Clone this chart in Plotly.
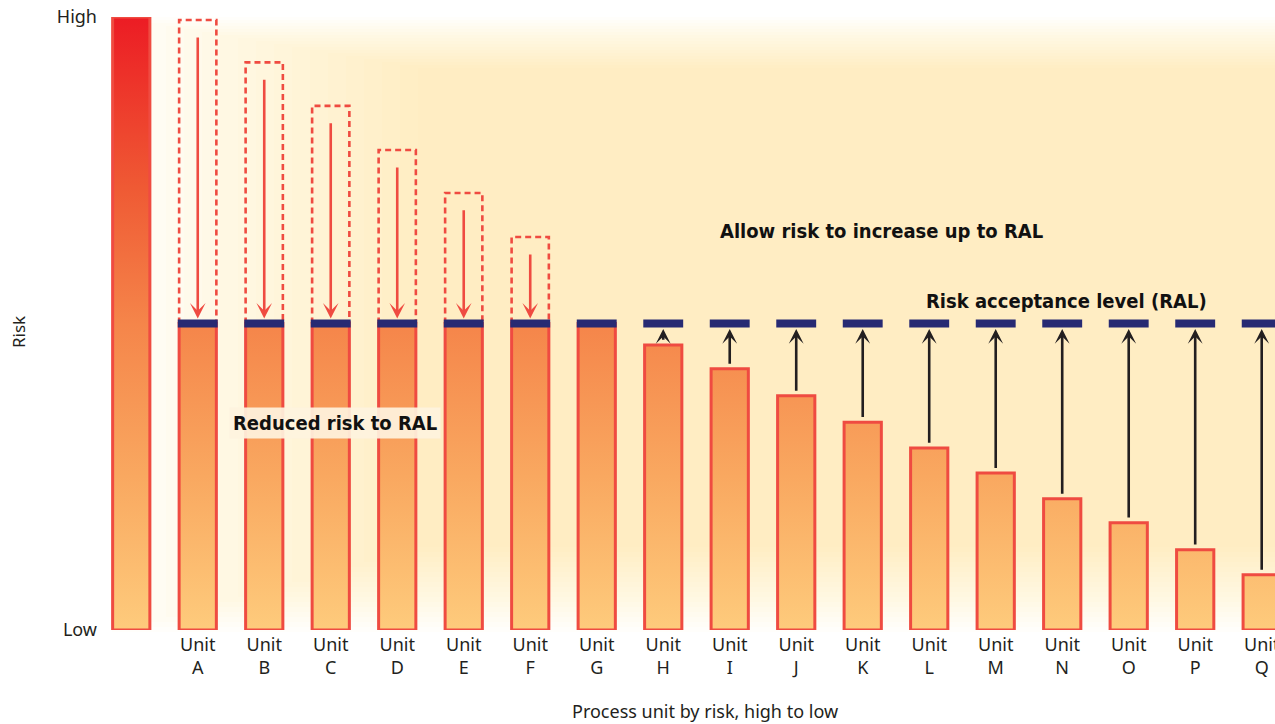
import plotly.graph_objects as go

# ---- data -------------------------------------------------------------
units = ["A", "B", "C", "D", "E", "F", "G", "H", "I",
         "J", "K", "L", "M", "N", "O", "P", "Q"]
unit_risk = [99.5, 92.6, 85.5, 78.3, 71.3, 64.1, 50.0, 46.5, 42.6,
             38.2, 33.9, 29.7, 25.6, 21.4, 17.5, 13.1, 9.0]
ral = 50.0            # risk acceptance level
scale_max = 100.0     # full-height risk scale bar (first column)

# ---- styling ----------------------------------------------------------
BAR_W = 0.56
CAP_W = 0.60
RED = "#ef4b41"
NAVY = "#272a73"
INK = "#231f20"
gradient = [[0.0, "#fecb7c"], [0.25, "#f9a860"], [0.5, "#f5854a"],
            [0.72, "#ef5a34"], [1.0, "#ec1c24"]]
LABEL_FONT = "Noto Sans, Open Sans, sans-serif"
BOLD_FONT = "Liberation Sans Narrow, DejaVu Sans Condensed, sans-serif"

x_pos = list(range(1, len(units) + 1))
shown = [min(r, ral) for r in unit_risk]

all_x = [0] + x_pos
all_y = [scale_max] + shown

fig = go.Figure()

# gradient fill and outline of every bar (one rectangle per bar)
px, py = [], []
for x, y in zip(all_x, all_y):
    h = BAR_W / 2
    px += [x - h, x + h, x + h, x - h, x - h, None]
    py += [0, 0, y, y, 0, None]
fig.add_trace(go.Scatter(
    x=px, y=py, mode="lines", fill="toself", line=dict(width=0),
    fillgradient=dict(type="vertical", colorscale=gradient,
                      start=0, stop=scale_max),
    hoverinfo="skip", showlegend=False))
fig.add_trace(go.Scatter(
    x=px, y=py, mode="lines", line=dict(color=RED, width=3),
    hoverinfo="skip", showlegend=False))

# dashed boxes showing the original risk of units above the RAL
dx, dy = [], []
for x, r in zip(x_pos, unit_risk):
    if r > ral:
        h = BAR_W / 2
        dx += [x - h, x - h, x + h, x + h, None]
        dy += [ral, r, r, ral, None]
fig.add_trace(go.Scatter(
    x=dx, y=dy, mode="lines",
    line=dict(color=RED, width=2.6, dash="6px,4px"),
    hoverinfo="skip", showlegend=False))

# RAL caps on every unit
cx, cy = [], []
for x in x_pos:
    cx += [x - CAP_W / 2, x + CAP_W / 2, None]
    cy += [ral, ral, None]
fig.add_trace(go.Scatter(
    x=cx, y=cy, mode="lines", line=dict(color=NAVY, width=8),
    hoverinfo="skip", showlegend=False))

# arrows: down to the RAL for high-risk units, up to the RAL for low-risk ones
annotations = []
for x, r in zip(x_pos, unit_risk):
    if r > ral:
        annotations.append(dict(
            x=x, y=ral + 0.8, ax=x, ay=r - 2.6, xref="x", yref="y",
            axref="x", ayref="y", text="", showarrow=True,
            arrowhead=3, arrowsize=1.0, arrowwidth=2.6, arrowcolor=RED,
            standoff=0))
    elif r < ral:
        annotations.append(dict(
            x=x, y=ral - 0.9, ax=x, ay=r + 0.6, xref="x", yref="y",
            axref="x", ayref="y", text="", showarrow=True,
            arrowhead=3, arrowsize=0.95, arrowwidth=2.6, arrowcolor=INK,
            standoff=0))

# text labels
annotations += [
    dict(x=11.28, y=65.1, xref="x", yref="y", showarrow=False,
         xanchor="center", yanchor="middle",
         text="<b>Allow risk to increase up to RAL</b>",
         font=dict(family=BOLD_FONT, size=20, color="#111111")),
    dict(x=14.06, y=53.7, xref="x", yref="y", showarrow=False,
         xanchor="center", yanchor="middle",
         text="<b>Risk acceptance level (RAL)</b>",
         font=dict(family=BOLD_FONT, size=20, color="#111111")),
    dict(x=3.06, y=33.8, xref="x", yref="y", showarrow=False,
         xanchor="center", yanchor="middle",
         text="<b>Reduced risk to RAL</b>",
         bgcolor="rgba(254,243,222,0.92)", borderpad=3,
         font=dict(family=BOLD_FONT, size=20, color="#111111")),
    dict(x=(18 - 98) / 1177, y=(630 - 332) / 613, xref="paper", yref="paper",
         xanchor="center", yanchor="middle",
         showarrow=False, text="Risk", textangle=-90,
         font=dict(family=LABEL_FONT, size=17, color=INK)),
    dict(x=(705 - 98) / 1177, y=(630 - 711) / 613, xref="paper", yref="paper",
         xanchor="center", yanchor="middle",
         showarrow=False, text="Process unit by risk, high to low",
         font=dict(family=LABEL_FONT, size=18, color=INK)),
]

# soft warm glow behind the bars (stacked translucent rectangles)
shapes = []
N = 18
for k in range(N):
    left, right = 112 + 18 * k, 1330
    top, bottom = 17 + 3 * k, 632 - 5 * k
    shapes.append(dict(
        type="rect", xref="paper", yref="paper", layer="below",
        x0=(left - 98) / 1177, x1=(right - 98) / 1177,
        y0=(630 - bottom) / 613, y1=(630 - top) / 613,
        line=dict(width=0), fillcolor="#fcdb94", opacity=0.035))

fig.update_layout(
    width=1275, height=724,
    margin=dict(l=98, r=0, t=17, b=94, autoexpand=False),
    paper_bgcolor="white", plot_bgcolor="rgba(0,0,0,0)",
    showlegend=False,
    annotations=annotations, shapes=shapes,
    xaxis=dict(range=[-0.5, 17.2], tickvals=x_pos,
               ticktext=[f"Unit<br>{u}" for u in units],
               showgrid=False, zeroline=False, showline=False, ticks="",
               automargin=False,
               ticklabeloverflow="allow", ticklabelstandoff=2,
               tickfont=dict(family=LABEL_FONT, size=18, color=INK)),
    yaxis=dict(range=[0, scale_max], tickvals=[0, scale_max],
               ticktext=["Low", "High"], showgrid=False, zeroline=False,
               showline=False, ticks="", automargin=False,
               tickfont=dict(family=LABEL_FONT, size=18, color=INK)),
)

fig.write_html("out.html")
